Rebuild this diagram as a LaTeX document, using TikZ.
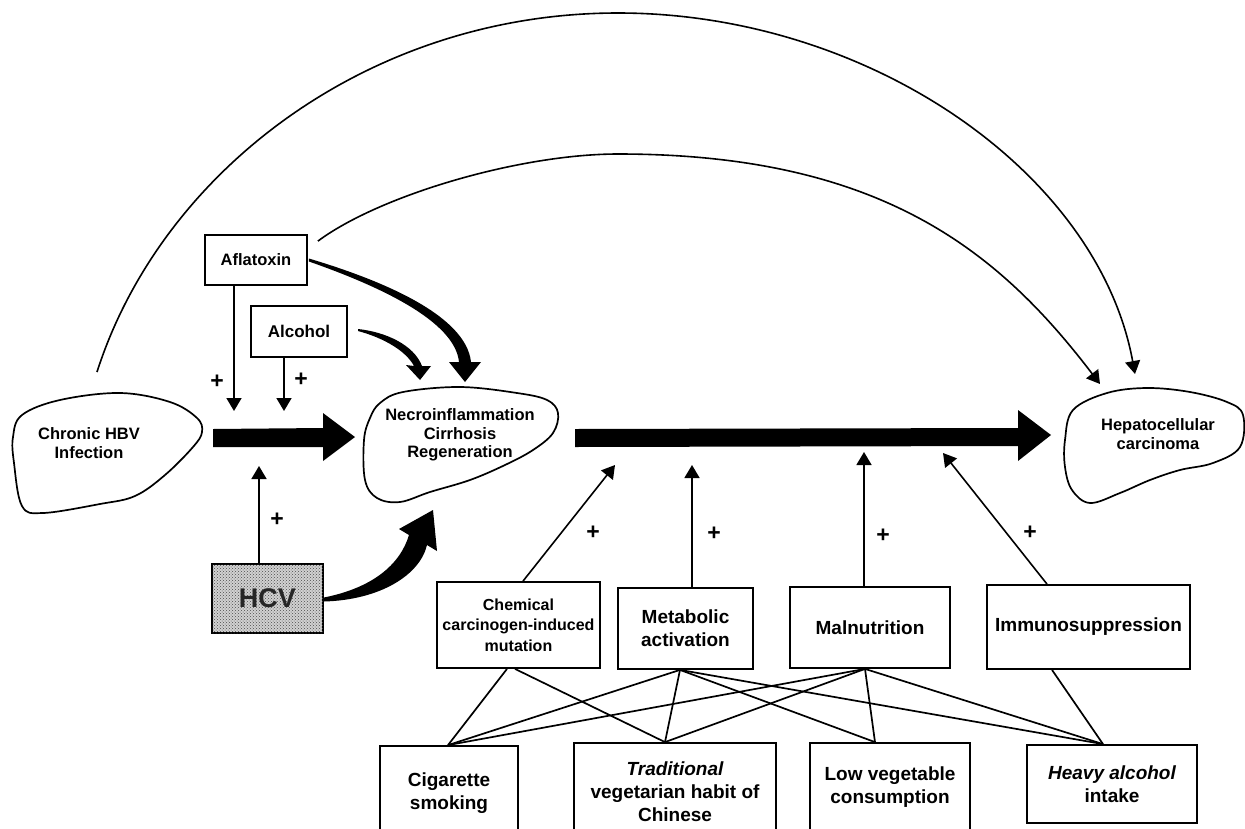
\documentclass[tikz,border=0pt]{standalone}
\usepackage{fontspec}
\setmainfont{Liberation Sans}
\usetikzlibrary{arrows.meta,patterns,calc}
\begin{document}
\begin{tikzpicture}[x=1pt,y=-1pt,
  box/.style={draw, line width=1.8pt, inner sep=0pt, align=center},
  rowtext/.style={font=\fontsize{19}{23}\selectfont\bfseries},
  smalltext/.style={font=\fontsize{16.5}{18.5}\selectfont\bfseries, align=center},
  plus/.style={font=\fontsize{23}{23}\selectfont\bfseries, inner sep=0pt},
  conn/.style={line width=1.7pt},
  arr/.style={line width=1.6pt, -{Triangle[length=13pt,width=15pt]}},
  blob/.style={line width=1.7pt},
  thick arrow/.style={fill=black, draw=none}
]
\useasboundingbox (0,0) rectangle (1245,828);
\clip (0,0) rectangle (1245,828);

% ---------- blobs ----------
\draw[blob] plot[smooth cycle, tension=0.6] coordinates {(22,415) (60,400) (120,393) (170,402) (197,418) (202,432) (193,447) (165,475) (135,496) (100,504) (43,513) (22,506) (14,463) (13,437)};
\node[smalltext] (hbv) at (89,443) {Chronic HBV\\Infection};

\draw[blob] plot[smooth cycle, tension=0.6] coordinates {(380,403) (403,392) (460,387) (517,393) (547,400) (558,413) (553,433) (533,450) (505,465) (470,480) (430,492) (400,502) (377,498) (365,480) (364,440) (370,418)};
\node[smalltext] (nec) at (460,435) {Necroinflammation\\Cirrhosis\\Regeneration};

\draw[blob] plot[smooth cycle, tension=0.6] coordinates {(1073,410) (1107,393) (1147,388) (1190,392) (1227,402) (1243,415) (1240,447) (1213,463) (1180,470) (1150,480) (1120,493) (1090,503) (1072,490) (1065,467) (1065,440)};
\node[smalltext] (hcc) at (1158,434) {Hepatocellular\\carcinoma};

% ---------- top boxes ----------
\node[box, minimum width=102pt, minimum height=50pt, font=\fontsize{16.5}{18}\selectfont\bfseries] (afla) at (256,260) {Aflatoxin};
\node[box, minimum width=96pt, minimum height=51pt, font=\fontsize{17}{18}\selectfont\bfseries] (alc) at (299,331.5) {Alcohol};

% HCV box
\node[box, minimum width=111pt, minimum height=69pt, fill=black!18,
      postaction={pattern=crosshatch dots, pattern color=black!70},
      font=\fontsize{27}{27}\selectfont\bfseries, text=black!85] (hcv) at (267.5,598.5) {HCV};

% ---------- big arrows ----------
\fill (213,429) -- (323,428) -- (323,413) -- (355,437) -- (323,461) -- (323,447) -- (213,447) -- cycle;
\fill (575,429) -- (1018,428) -- (1018,410) -- (1051,435) -- (1018,461) -- (1018,446) -- (575,447) -- cycle;

% ---------- tapered curved arrows ----------
% Aflatoxin -> Necro
\fill[thick arrow] ([shift={(1pt,1.5pt)}]afla.east) .. controls (381,280) and (466,315) .. (471,362)
   -- (481,362) -- (465,382) -- (449,362) -- (459,362)
   .. controls (455,321) and (379,286) .. ([shift={(1pt,-1.5pt)}]afla.east) -- cycle;
% Alcohol -> Necro
\fill[thick arrow] (358,329) .. controls (386,332) and (414,345) .. (422,366)
   -- (431,366) -- (420,380) -- (406,365) -- (414,366)
   .. controls (406,351) and (384,338) .. (358,331) -- cycle;
% HCV -> Necro
\fill[thick arrow] ([yshift=-3pt]hcv.east) .. controls (380,600) and (420,575) .. (427,545)
   -- (437,551) -- (433,510) -- (399,529) -- (409,535)
   .. controls (400,565) and (372,588) .. ([yshift=1pt]hcv.east) -- cycle;

% ---------- top arcs ----------
\coordinate (arcA) at (97,372);
\coordinate (tipA) at (1135,374);
\coordinate (tipB) at (1100,384);
\draw[arr] (arcA) .. controls (161,172) and (368,13) .. (618,13)
   .. controls (868,13) and (1098,172) .. (tipA);
\draw[arr] ([shift={(10pt,-7pt)}]afla.north east) .. controls (380,195) and (520,154) .. (618,154)
   .. controls (883,154) and (1000,253) .. (tipB);

% ---------- small arrows to left big arrow ----------
\coordinate (t1) at (234,411);
\coordinate (t2) at (284,411);
\coordinate (t3) at (259,466);
\draw[arr] ([xshift=-22pt]afla.south) -- (t1);
\draw[arr] ([xshift=-15pt]alc.south) -- (t2);
\draw[arr] ([xshift=-8.5pt]hcv.north) -- (t3);
\node[plus] (p1) at (217,382) {+};
\node[plus] (p2) at (301,380) {+};
\node[plus] (p3) at (277,520) {+};

% ---------- middle row boxes ----------
\node[box, minimum width=163pt, minimum height=86pt, font=\fontsize{16}{20.5}\selectfont\bfseries] (chem) at (518.5,625) {Chemical\\carcinogen-induced\\mutation};
\node[box, rowtext, minimum width=135pt, minimum height=81pt] (metab) at (685.5,628.5) {Metabolic\\activation};
\node[box, rowtext, minimum width=160pt, minimum height=81pt] (maln) at (870,627.5) {Malnutrition};
\node[box, rowtext, minimum width=203pt, minimum height=84pt] (immu) at (1088.5,627) {Immunosuppression};

% ---------- bottom row boxes ----------
\node[box, rowtext, minimum width=138pt, minimum height=95pt] (cig) at (449,793.5) {Cigarette\\smoking};
\node[box, rowtext, minimum width=202pt, minimum height=98pt] (trad) at (675,792) {\itshape Traditional\\vegetarian habit of\\Chinese};
\node[box, rowtext, minimum width=160pt, minimum height=89pt] (low) at (890,787.5) {Low vegetable\\consumption};
\node[box, rowtext, minimum width=170pt, minimum height=78pt] (heavy) at (1112,784) {\itshape Heavy alcohol\\intake};

% ---------- arrows from middle row to main arrow ----------
\coordinate (u1) at (615,465);
\coordinate (u2) at (692,465);
\coordinate (u3) at (864,452);
\coordinate (u4) at (943,453);
\draw[arr] ([xshift=4.5pt]chem.north) -- (u1);
\draw[arr] ([xshift=6.5pt]metab.north) -- (u2);
\draw[arr] ([xshift=-6pt]maln.north) -- (u3);
\draw[arr] ([xshift=-41.5pt]immu.north) -- (u4);
\node[plus] (p4) at (593,533) {+};
\node[plus] (p5) at (714,534) {+};
\node[plus] (p6) at (883,536) {+};
\node[plus] (p7) at (1030,533) {+};

% ---------- connections between rows ----------
\draw[conn] ([xshift=-11.5pt]chem.south) -- ([xshift=-1pt]cig.north);
\draw[conn] ([xshift=-3.5pt]chem.south) -- ([xshift=-10pt]trad.north);
\draw[conn] ([xshift=-5.5pt]metab.south) -- ([xshift=-1pt]cig.north);
\draw[conn] ([xshift=-5.5pt]metab.south) -- ([xshift=-10pt]trad.north);
\draw[conn] ([xshift=-5.5pt]metab.south) -- ([xshift=-15pt]low.north);
\draw[conn] ([xshift=-5.5pt]metab.south) -- ([xshift=-9pt]heavy.north);
\draw[conn] ([xshift=-5pt]maln.south) -- ([xshift=-1pt]cig.north);
\draw[conn] ([xshift=-5pt]maln.south) -- ([xshift=-10pt]trad.north);
\draw[conn] ([xshift=-5pt]maln.south) -- ([xshift=-15pt]low.north);
\draw[conn] ([xshift=-5pt]maln.south) -- ([xshift=-9pt]heavy.north);
\draw[conn] ([xshift=-36.5pt]immu.south) -- ([xshift=-9pt]heavy.north);
\end{tikzpicture}
\end{document}
